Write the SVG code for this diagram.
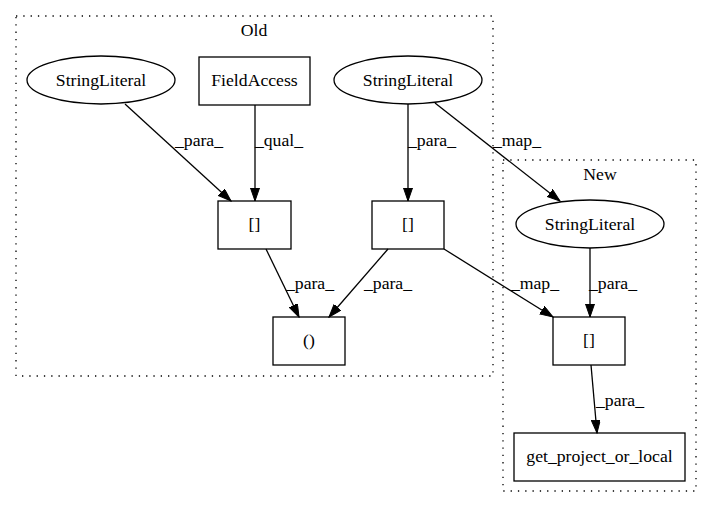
<svg xmlns="http://www.w3.org/2000/svg" width="712" height="508" viewBox="0 0 712 508">
<style>
text{font-family:"Liberation Serif","Times New Roman",serif;font-size:17.7px;fill:#000}
.n{text-anchor:middle}
.cl{fill:none;stroke:#000;stroke-width:1.3;stroke-dasharray:1.3,6}
.nd{fill:none;stroke:#000;stroke-width:1.3}
.e{fill:none;stroke:#000;stroke-width:1.3;marker-end:url(#ah)}
.lb{text-anchor:middle}
</style>
<defs>
<marker id="ah" markerUnits="userSpaceOnUse" markerWidth="14" markerHeight="10" refX="13" refY="4.5" orient="auto">
<path d="M0,0 L13,4.5 L0,9 z" fill="#000" stroke="#000" stroke-width="1"/>
</marker>
</defs>
<rect width="712" height="508" fill="#fff"/>
<g id="cluster_old">
<rect class="cl" x="16" y="16" width="477" height="360"/>
<text class="n" x="254" y="36">Old</text>
</g>
<g id="cluster_new">
<rect class="cl" x="503" y="160" width="193" height="331"/>
<text class="n" x="600" y="180">New</text>
</g>
<g id="edges">
<path class="e" d="M125,104 L231,201"/>
<text class="lb" x="199" y="146">_para_</text>
<path class="e" d="M255,105 L255,201"/>
<text class="lb" x="279" y="146">_qual_</text>
<path class="e" d="M408,104 L408,201"/>
<text class="lb" x="432" y="146">_para_</text>
<path class="e" d="M435,103 L560,201"/>
<text class="lb" x="517" y="146">_map_</text>
<path class="e" d="M266,249 L299,317"/>
<text class="lb" x="310" y="289">_para_</text>
<path class="e" d="M388,249 L329,317"/>
<text class="lb" x="388" y="289">_para_</text>
<path class="e" d="M444,249 L553,317"/>
<text class="lb" x="535" y="289">_map_</text>
<path class="e" d="M590,248 L590,317"/>
<text class="lb" x="613" y="289">_para_</text>
<path class="e" d="M591,365 L597,433"/>
<text class="lb" x="620" y="406">_para_</text>
</g>
<g id="n_sl1">
<ellipse class="nd" cx="101" cy="80" rx="74" ry="24"/>
<text class="n" x="101" y="86">StringLiteral</text>
</g>
<g id="n_fa">
<rect class="nd" x="199" y="57" width="111" height="48"/>
<text class="n" x="254.5" y="86">FieldAccess</text>
</g>
<g id="n_sl2">
<ellipse class="nd" cx="408" cy="80" rx="74" ry="24"/>
<text class="n" x="408" y="86">StringLiteral</text>
</g>
<g id="n_b1">
<rect class="nd" x="218" y="201" width="73" height="48"/>
<text class="n" x="254.5" y="230">[]</text>
</g>
<g id="n_b2">
<rect class="nd" x="372" y="201" width="72" height="48"/>
<text class="n" x="408" y="230">[]</text>
</g>
<g id="n_call">
<rect class="nd" x="273" y="317" width="72" height="48"/>
<text class="n" x="309" y="346">()</text>
</g>
<g id="n_sl3">
<ellipse class="nd" cx="590" cy="224" rx="74" ry="24"/>
<text class="n" x="590" y="230">StringLiteral</text>
</g>
<g id="n_b3">
<rect class="nd" x="553" y="317" width="72" height="48"/>
<text class="n" x="589" y="346">[]</text>
</g>
<g id="n_get">
<rect class="nd" x="514" y="433" width="171" height="48"/>
<text class="n" x="599.5" y="462">get_project_or_local</text>
</g>
</svg>
